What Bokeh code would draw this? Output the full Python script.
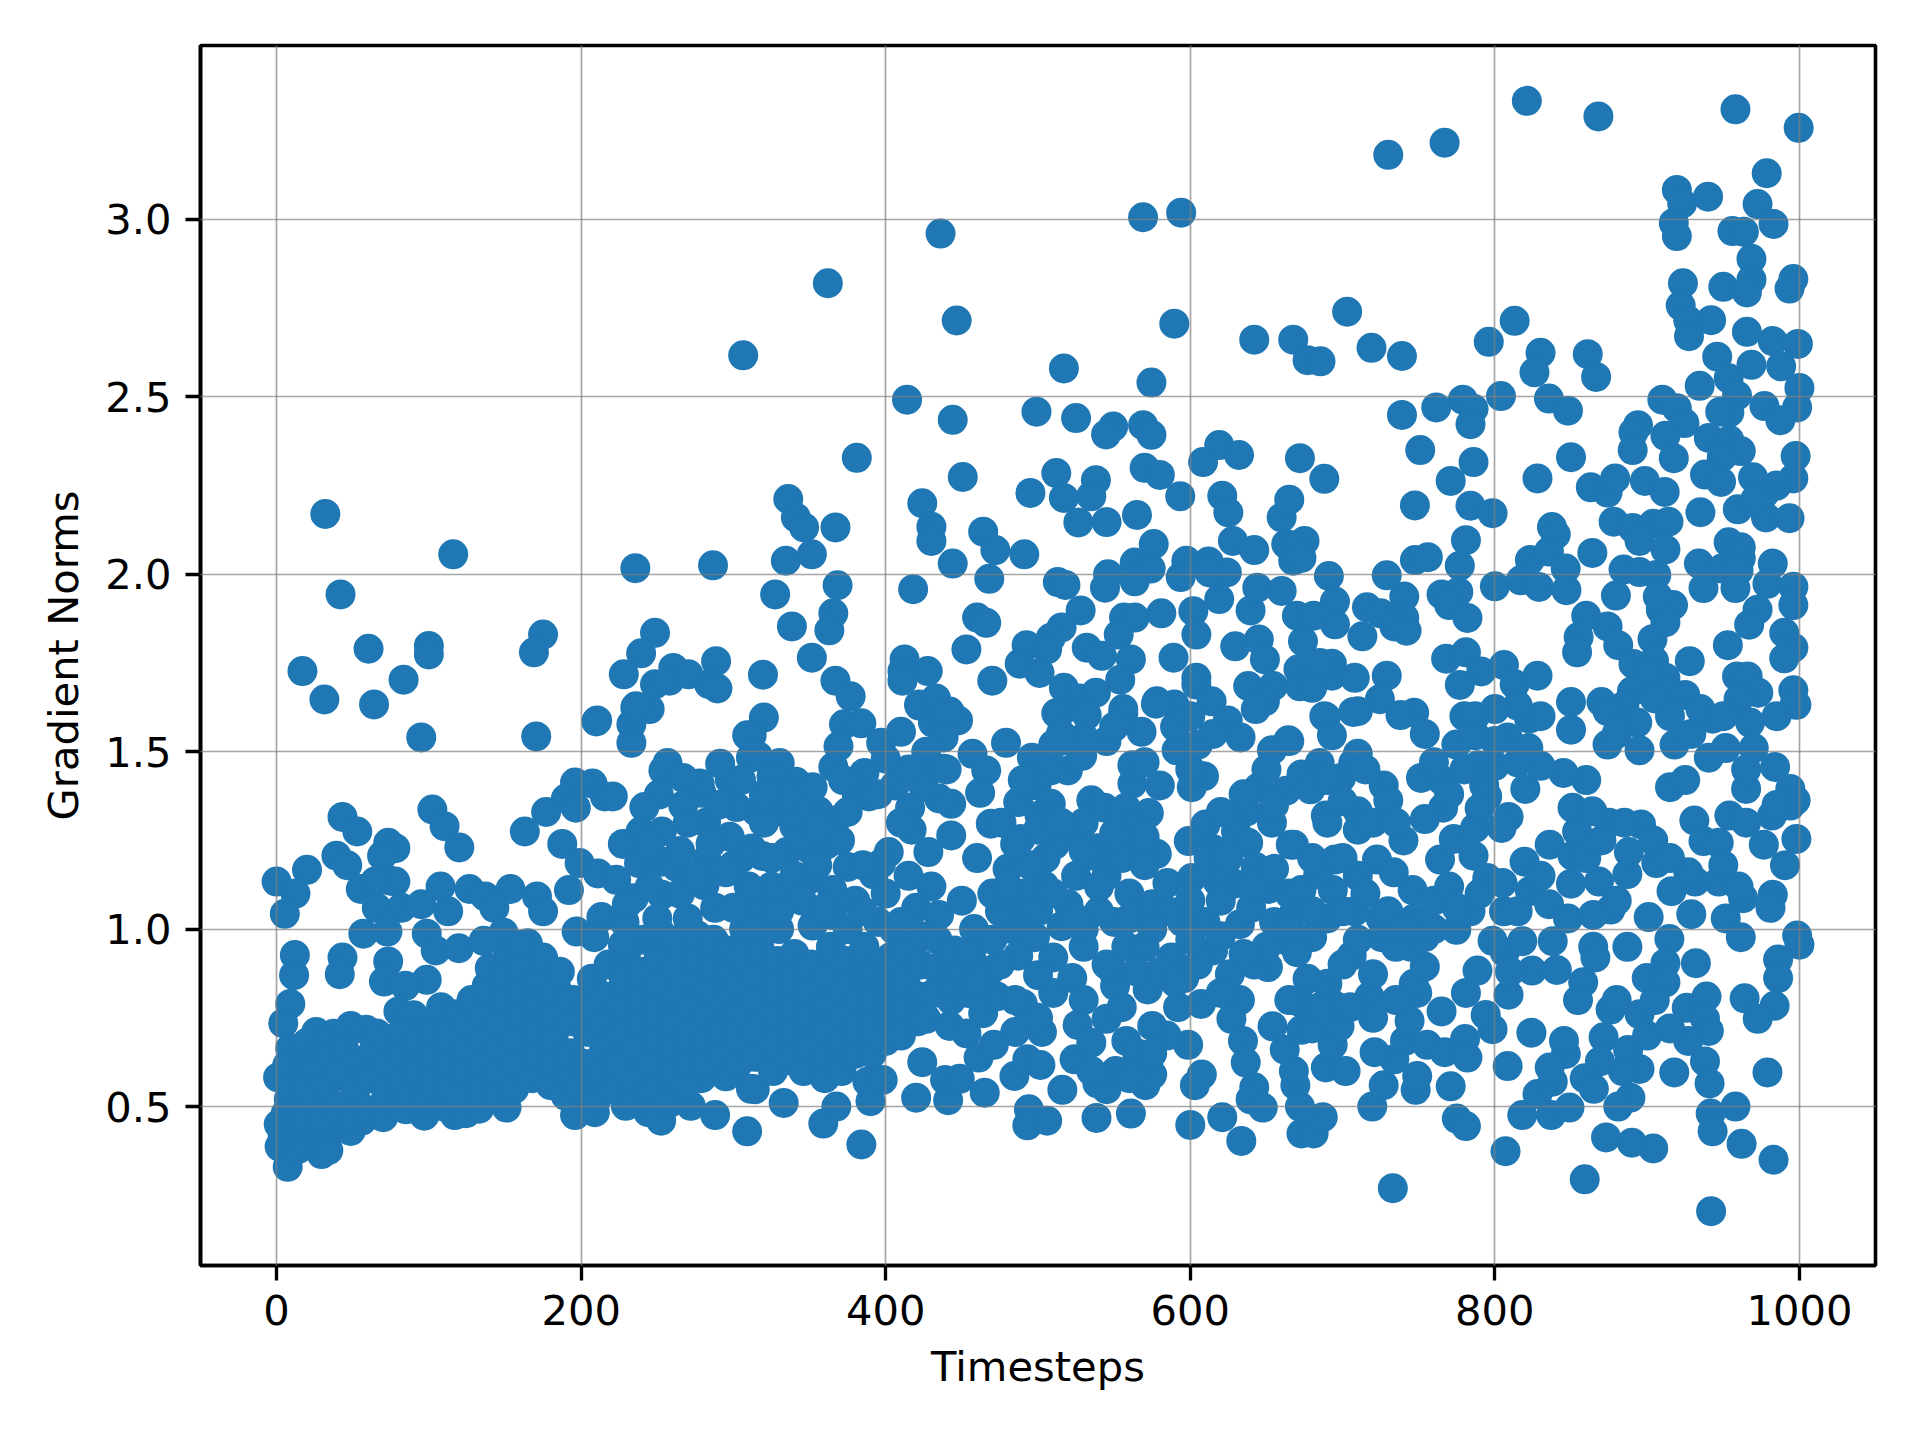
from bokeh.embed import file_html
from bokeh.models import FixedTicker, Range1d, ColumnDataSource, NumeralTickFormatter
from bokeh.plotting import figure
from bokeh.resources import INLINE

# (timestep, gradient norm) pairs, region by region
left_edge_and_floor = [
 (1,.582),(1.4,.45),(2,.387),(7.3,.33),(6,.48),(4,.42),(8,.52),(10,.56),(12,.44),(14,.38),(16,.5),(20,.4),(25,.43),(29.5,.366),(34,.377),
 (40,.44),(48.7,.431),(56,.46),(65.8,.487),(85,.492),(97,.474),(117,.476),(124.5,.481),(133,.494),(151,.497),(196,.476),(209,.484),(229.3,.502),
 (244,.484),(252.5,.46),(272,.502),(288,.476),(309,.43),(295,.585),(279,.58),(252,.57),(311.5,.55),
 (9,.789),(4.4,.735),(9,.664),(7,.617),(12,.927),(11.5,.87),(43.3,.92),(41.5,.873),(73.3,.909),(70.5,.852),(98.6,.857),(84.5,.84),(80,.768),(90,.757),
]
blob_0_150 = [
 (18,.47),(18,.55),(18,.62),(20,.68),(26,.71),(26,.61),(27,.52),(30,.46),(33,.56),(34,.65),(37.5,.705),(40,.5),(42,.6),(44,.67),(48.7,.727),(50,.47),
 (52,.55),(53,.63),(58.8,.716),(60,.49),(62,.58),(64,.66),(65.8,.706),(70,.47),(72,.54),(73,.62),(75,.69),(80,.5),(82,.57),(83,.65),(85,.71),(90,.53),
 (92,.6),(94,.68),(98,.51),(102,.57),(103,.64),(105,.72),(108,.78),(110,.5),(112,.56),(114,.63),(115,.7),(118,.76),(122,.53),(124,.6),(126,.66),(127,.73),
 (128,.8),(133,.54),(135,.62),(136,.69),(137,.76),(138,.84),(140,.89),(144,.52),(146,.59),(147,.66),(148,.73),(149,.8),(150,.87),(152,.93),
]
blob_150_300 = [
 (156,.55),(158,.62),(158,.69),(160,.76),(160,.83),(161,.9),(165,.96),(168,.58),(170,.65),(171,.72),(172,.79),(172,.86),(175,.92),(180,.56),(181,.62),(182,.7),
 (183,.76),(184,.83),(186,.88),(190,.53),(192,.6),(193,.65),(194,.74),(195,.8),(200,.55),(203,.62),(204,.71),(205,.78),(207,.86),(210,.52),(214,.59),(215,.66),
 (216,.73),(216,.81),(218,.9),(222,.55),(225,.63),(226,.7),(227,.78),(228,.86),(230,.94),(233,.52),(236,.58),(237,.66),(238,.73),(239,.81),(240,.88),(241,.97),
 (247,.54),(248,.62),(249,.69),(250,.77),(250,.84),(251,.92),(252,.99),(258,.51),(260,.6),(261,.67),(262,.74),(263,.81),(263,.89),(264,.97),(268,.56),(270,.63),
 (272,.7),(273,.78),(274,.85),(275,.93),(276.6,.982),(281,.62),(283,.68),(284,.75),(285,.83),(286,.9),(287,.97),(292,.65),(294,.72),(295,.79),(296,.87),(297,.94),
]
blob_300_460 = [
 (303,.62),(304,.7),(305,.77),(305,.85),(306,.93),(307,1.0),(314,.549),(314,.64),(315,.72),(316,.8),(316,.87),(317,.95),(318,1.02),(314,1.06),(326,.6),(327,.68),
 (327,.76),(328,.83),(329,.91),(330,1.0),(333,.51),(337,1.087),(337,.63),(338,.71),(338,.78),(339,.86),(340,.93),(346,.6),(349,.67),(350,.75),(350,.82),(351,.9),
 (352,1.01),(359,.452),(360,.58),(361,.64),(361,.72),(362,.79),(363,.87),(364,.95),(365,1.04),(367.6,.5),(371,.6),(372,.68),(373,.76),(373,.83),(374,.91),(375,1.0),
 (380,.648),(381,.72),(384,.393),(384,.8),(385,.87),(386,.95),(388,.57),(390,.515),(391,.65),(392,.73),(393,.8),(394,.88),(395,1.02),(398,.575),(400,.685),(401,.76),
 (402,.84),(403,.92),(405,1.0),(410,.7),(412,.78),(413,.86),(414,.94),(420,.525),(424,.625),(421,.74),(422,.81),(423,.9),(424,.98),(426.6,.747),(432,.82),(433,.89),
 (434,.97),(439,.575),(441,.518),(442,.727),(443,.8),(444,.86),(445,.94),(448.6,.578),(449,.883),(453,.706),(456,.925),(454,.82),(458,1.0),(461,.638),
]
mid_300_460 = [
 (320,1.596),(312,1.546),(372.6,1.577),(384,1.58),(369,1.515),(397,1.525),(410,1.556),(422,1.63),(431,1.582),(447.5,1.588),(438,1.54),(457,1.494),(426.6,1.5),(438,1.452),
 (426.6,1.44),(406,1.405),(389,1.374),(381,1.379),(386,1.44),(365.6,1.457),(330.4,1.468),(316,1.488),(341,1.415),(325,1.43),(315,1.332),(356,1.332),(367,1.306),(330,1.332),
 (443,1.353),(435,1.368),(416,1.342),(417,1.28),(428,1.217),(402,1.217),(443,1.264),(312,1.227),(319,1.206),(335,1.217),(349,1.228),(361,1.238),(375,1.175),(392,1.154),(397,1.185),
 (340,1.29),(345,1.36),(350,1.14),(325,1.12),(340,1.15),(310,1.12),(365,1.11),(380,1.08),(415,1.15),(430,1.12),(420,1.06),(435,1.04),(450,1.08),(302,1.344),
 (309,1.546),(311.5,1.483),(297.6,1.42),(291.3,1.466),(279,1.384),(277.8,1.41),
 (305,1.2),(320,1.3),(335,1.38),(352,1.4),(372,1.42),(395,1.38),(410,1.3),(400,1.1),(385,1.18),(370,1.25),(355,1.18),(345,1.08),(325,1.2),(310,1),(300,1.18),
 (330,1.05),(360,1.06),(410,1.02),(385,1.05),(345,1.25),(375,1.33),(355,1.28),(320,1.38),(305,1.42),(425,1.4),(440,1.45),(415,1.45),(400,1.48),
]
mid_160_300 = [
 (95,1.54),(170.5,1.543),(210.5,1.588),(233,1.577),(235.6,1.624),(245,1.62),(233,1.525),(256.7,1.468),(254,1.447),(267,1.426),(251,1.379),(241.5,1.344),(267,1.348),(282,1.3),
 (196,1.413),(207.5,1.41),(190,1.368),(196.5,1.342),(215.6,1.374),(220.8,1.374),(177,1.33),(163,1.275),(187.6,1.24),(199,1.186),(192,1.11),(211,1.157),(223,1.139),(227.4,1.24),
 (239,1.275),(253,1.275),(238,1.186),(253,1.19),(262.6,1.175),(234.5,1.087),(297.6,1.26),(282.4,1.196),(295,1.16),(253,1.097),(281,1.123),(288,1.06),(213.3,1.034),(197,.993),
 (228.5,1.019),(208.6,.977),(227.4,.956),(265,1.1),(270,1.03),(300,1.06),(250,1.03),
 (245,1.24),(270,1.3),(285,1.24),(265,1.22),(245,1.12),(275,1.15),(290,1.35),(230,1.07),
 (43.3,1.316),(53,1.275),(39.3,1.207),(46.4,1.18),(0,1.134),(20,1.167),(12.4,1.1),(5.4,1.043),(73.3,1.243),(78,1.228),(69.3,1.207),(102.3,1.337),(110.3,1.29),(120,1.23),
 (74,1.137),(78,1.134),(55.3,1.113),(64.6,1.134),(65.8,1.06),(82,1.06),(95,1.07),(107.7,1.12),(126.7,1.113),(137,1.092),(153.6,1.113),(171,1.092),(175,1.05),(112.7,1.05),(143,1.06),
 (57,.987),(72.8,.993),(149,.99),(98.6,.987),(104.5,.94),(119.7,.946),(136,.967),(159.5,.956),
]
upper_left = [
 (32,2.17),(116,2.056),(42,1.943),(235.6,2.017),(286.6,2.025),(306.4,2.617),(175,1.83),(169,1.78),(60.4,1.79),(100,1.798),(100,1.774),(17,1.727),(83.4,1.703),(31.4,1.647),(64,1.633),
 (248.5,1.835),(239.4,1.777),(228,1.718),(260.5,1.736),(248.5,1.69),(258,1.7),(270.5,1.718),(288.6,1.755),(284,1.69),(289.5,1.678),(236,1.628),(210,1.585),
]
upper_mid = [
 (436,2.96),(362,2.82),(446.6,2.715),(569,3.006),(594,3.019),(589.5,2.706),(517,2.58),(574.5,2.54),(414,2.492),(444,2.435),(499,2.458),(525,2.44),(549.4,2.416),(544.7,2.394),(569,2.42),
 (574.5,2.393),(642,2.661),(381,2.328),(619,2.364),(608.4,2.316),(632,2.336),(570,2.3),(580,2.28),(512,2.285),(538,2.265),(535,2.22),(517,2.215),(495,2.229),(593.4,2.22),(450.6,2.274),
 (336,2.212),(341,2.16),(346.4,2.132),(367,2.132),(424,2.2),(430,2.134),(430,2.094),(464,2.12),(472,2.068),(491,2.056),(444,2.03),(468,1.987),(526.5,2.146),(545,2.147),(565,2.167),
 (576,2.085),(621,2.221),(625,2.174),(660,2.16),(628,2.094),(642,2.068),(597.4,2.038),(612,2.036),(624,2.005),(612.6,2.005),(593.7,1.992),(563.5,2.033),(574,2.016),(546,2),(544,1.962),
 (563.5,1.98),(513,1.978),(518,1.97),(334.4,2.038),(351.5,2.056),(368.4,1.969),(327.4,1.943),(365.6,1.89),(363,1.842),(338.4,1.853),(418,1.958),(351.5,1.765),(319.4,1.717),(367,1.7),
 (377,1.656),(460,1.878),(466,1.863),(528,1.898),(581,1.89),(602,1.896),(619,1.93),(639.6,1.898),(604,1.83),(556.5,1.878),(563.5,1.878),(553,1.83),(515.5,1.85),(508.4,1.821),(492.5,1.8),
 (506,1.788),(488,1.748),(501,1.722),(532,1.793),(542,1.77),(561,1.76),(554,1.703),(589,1.765),(453,1.788),(412.4,1.76),(411,1.727),(411,1.7),(427.6,1.727),(470,1.7),(517,1.68),(527,1.65),
 (538,1.666),(556,1.62),(515.5,1.614),(578,1.642),(589.5,1.633),(604,1.708),(604,1.689),(614,1.642),(629.5,1.797),(645,1.816),(649,1.76),(638,1.685),(654.5,1.685),(649,1.642),(644,1.962),
 (660,1.953),(667.6,2.038),(663,2.085),(672,2.066),(422,1.633),(433,1.65),(442,1.613),
]
mid_460_670 = [
 (479,1.525),(466,1.447),(462,1.384),(469,1.297),(488.5,1.254),(521,1.27),(496,1.483),(521,1.53),(519.6,1.447),(529,1.488),(508.4,1.447),(499,1.405),(487,1.358),(508.4,1.353),(501,1.32),
 (535,1.363),(543.6,1.342),(557.6,1.342),(572.8,1.327),(562,1.41),(580,1.405),(562,1.462),(601,1.4),(609,1.431),(591,1.504),(545,1.53),(512,1.608),(556,1.608),(532,1.603),(568,1.556),
 (577.4,1.635),(643,1.62),(624.6,1.588),(633,1.54),(665,1.53),(653.6,1.504),(610,1.295),(599,1.248),(615,1.225),(645,1.4),(663,1.39),(637,1.332),(653.6,1.3),(630,1.275),(638,1.243),
 (666,1.238),(643,1.175),(651.3,1.113),(629,1.128),(601,1.144),(618,1.134),(578,1.212),(562,1.217),(562,1.285),(539,1.228),(511,1.238),(536.5,1.207),(594,1.05),(575,1.07),(550,1.02),
 (515.5,1.008),(504,1.123),(490,1.1),(483,1),(498,.977),(549,.883),(558,.95),(587.6,.92),(594.6,1.02),(610,1.02),(632.6,1.014),(596,.862),(607,.789),(626,.873),(651,.893),(642,.9),
 (668,1.045),(664,.967),(654,.726),(632.6,.8),(627,.747),(634.6,.685),(636.4,.624),(603,.56),(607.6,.59),(642,.554),(639.6,.52),(647.6,.497),(600,.448),(621,.47),(633.5,.403),(673,.424),
 (662,.66),(669,.56),(561,.48),(538.4,.468),(516,.547),(502.6,.71),(485,.71),(465,.539),(484.5,.586),(494,.492),(493,.447),(506,.46),(471,.674),(493,.633),(501.6,.617),(524,.633),(539,.565),
 (545,.549),(551,.6),(570.5,.56),(575,.59),(598.6,.674),(584.5,.7),(464,.763),(490,.789),(473,.81),(510,.82),(526,.73),(545,.747),(558,.685),(575,.727),(592,.78),(572,.83),(550.6,.84),
 (522.5,.862),(468.6,.883),(487,.925),(475,1.05),(490,1.05),(505,1.2),(525,1.15),(545,1.15),(560,1.1),(520,1.07),(540,1.05),(530,.95),(510,.92),(570,.95),(585,1.13),(470,1.1),(480,1.17),
 (460,1.2),(476,1.3),(530,1.3),(560,1.03),(530,1),(500,1.05),(620,1.08),(640,1.06),(655,1.02),(665,1.1),(615,.94),(580,.88),(500,.87),
 (460,.85),(475,.9),(470,.97),(485,.8),(500,.75),(535,.68),(530,.8),(545,.9),(555,.78),(565,.88),(590,.85),(605,.9),(620,.82),(565,.65),(560,.58),
 (575,.65),(535,.6),(480,1.12),(495,1.18),(510,1.1),(525,1.03),(540,1.12),(555,1.2),(570,1.18),(585,1.05),(600,1.08),(612,1.2),(625,1.2),(640,1.12),(655,1.17),(665,1),(650,.95),(635,.93),
 (620,.98),(600,.97),(575,1),(485,1.24),(500,1.28),(515,1.3),(530,1.22),(550,1.27),(570,1.26),(620,1.33),(635,1.38),(650,1.45),(655,1.35),(600,1.45),
 (570,1.47),(510,1.52),(490,1.42),(530,1.54),(590,1.57),(605,1.52),(615,1.55),(600,1.6),(550,1.57),(515,1.55),
]
right_high = [
 (821,3.334),(868,3.29),(958,3.31),(999.5,3.258),(730,3.182),(767,3.216),(978.5,3.13),(919.5,3.083),(923,3.045),(940,3.064),(972.5,3.043),(917.5,2.99),(919.5,2.953),(956,2.967),(963.5,2.965),
 (983,2.987),(968.5,2.889),(968.5,2.83),(923.5,2.82),(950,2.81),(965.5,2.794),(996,2.832),(993.5,2.805),(922,2.757),(927,2.715),(942,2.716),(927.5,2.671),(965.5,2.683),(982.5,2.657),(999,2.649),
 (703,2.74),(813,2.714),(796,2.655),(830,2.624),(826,2.569),(861,2.62),(866.5,2.556),(667.6,2.661),(677,2.603),(685.5,2.6),(719,2.638),(739,2.615),(946,2.613),(953.5,2.552),(968.5,2.59),
 (988,2.586),(934.5,2.531),(1000,2.525),(959,2.504),(954,2.456),(948,2.458),(977,2.474),(998.5,2.47),(987.5,2.434),(804,2.502),(779,2.492),(761.5,2.47),(786,2.466),(784,2.423),(739,2.449),
 (835.5,2.495),(848,2.461),(910,2.492),(919.5,2.468),(924.5,2.426),(894,2.42),(891,2.4),(890.5,2.35),(912,2.39),(917.5,2.327),(940.5,2.384),(954,2.378),(961.5,2.347),(949,2.33),(938,2.281),
 (948.5,2.26),(969.5,2.273),(997.5,2.333),(996,2.27),(985,2.25),(977,2.227),(959.5,2.183),(978,2.16),(993.5,2.158),(971,2.21),(751,2.35),(786,2.316),(850,2.33),(771,2.263),(828,2.27),
 (863,2.245),(874,2.23),(879,2.27),(898.5,2.263),(911.5,2.232),(784,2.193),(747.5,2.194),(798.5,2.172),(672,2.327),(688,2.269),(665,2.21),(935,2.175),(878,2.148),(890.5,2.13),(904,2.142),
 (914,2.148),(895,2.094),(912,2.07),(837.5,2.133),(840,2.112),(781,2.096),(953.5,2.09),(961.5,2.076),(961.5,2.045),(864,2.06),(675,2.094),(669,2.08),(673,2.046),(747.5,2.04),(756,2.048),
 (777,2.024),(823,2.04),(835.5,2.064),(846.5,2.016),(817,1.983),(829,1.964),(847,1.955),(800,1.966),(691,1.995),(729,1.997),(934,2.03),(982.5,2.03),(949,2.016),(960,2.01),(884.5,2.013),
 (895,2.006),(906,1.998),(937,1.961),(958,1.961),(979,1.973),(996,1.965),(996,1.913),(972.5,1.9),(967,1.858),(953,1.8),(879.5,1.94),(860,1.883),(874,1.853),(855,1.823),(854,1.78),(881,1.8),
 (891,1.747),(903.5,1.817),(909,1.9),(917,1.913),(907,1.937),(912,1.865),(904.5,1.756),(912,1.708),(928,1.755),(990,1.835),(996,1.793),(990,1.763),(959,1.712),(966,1.712),(973,1.666),(996,1.673),
 (997,1.637),(960,1.648),(765,1.943),(776,1.95),(770,1.913),(782,1.877),(716,1.907),(725,1.89),(740.5,1.937),(740.5,1.877),(734,1.853),(742,1.841),(713,1.825),(695,1.923),(695,1.859),(674,1.811),
 (670,1.883),(681,1.883),(693,1.748),(671,1.732),(672,1.684),(693,1.714),(708,1.708),(729,1.714),(768,1.762),(781,1.78),(791,1.726),(806,1.744),(813,1.69),(828,1.714),(777,1.688),(688,1.6),
 (724.5,1.648),(747,1.61),(707,1.612),(780,1.6),(900,1.72),(915,1.67),(905,1.65),(890,1.67),(925,1.66),(885,1.63),(870,1.64),(850,1.64),
]
right_low = [
 (689,1.598),(710,1.614),(738,1.603),(787,1.6),(998,1.632),(943,1.593),(967.6,1.582),(850,1.562),(822.5,1.593),(874,1.614),(893.5,1.582),(918,1.52),(929,1.55),(874,1.52),(693,1.546),(664.4,1.532),
 (754,1.55),(774.7,1.52),(787,1.546),(808.4,1.54),(822,1.51),(710,1.494),(685,1.468),(789,1.462),(895,1.504),(940.5,1.483),(951.6,1.51),(970,1.51),(984,1.457),(994,1.395),(997.5,1.363),(994,1.348),
 (965,1.395),(982,1.32),(954,1.32),(931,1.306),(937,1.248),(947,1.243),(976.6,1.238),(998,1.254),(990.5,1.18),(947,1.134),(931.5,1.134),(927,1.16),(916,1.107),(982.5,1.097),(963,1.087),(929,1.042),
 (981,1.06),(901,1.034),(951.6,1.03),(961.5,.977),(998.5,.982),(1000,.956),(986,.914),(986,.862),(964,.805),(983.7,.784),(972.6,.747),(979,.596),(932,.904),(914.6,.972),(912,.904),(899.7,.862),
 (876,.773),(912,.85),(926,.778),(939,.81),(938,.747),(940.5,.713),(927,.685),(871.4,.695),(887.5,.659),(938,.627),(941,.565),(917.8,.596),(895,.606),(884,.6),(869,.627),(859,.58),(889,.525),(881,.5),
 (865,.55),(958,.5),(941.7,.48),(943,.43),(962,.395),(983,.35),(904,.382),(890,.398),(873,.413),(859,.295),(733,.27),(942,.205),(807,.374),(818,.476),(837,.476),(849,.497),(828,.535),(838,.57),
 (846.6,.648),(845.4,.685),(836,.61),(824,.708),(808.4,.614),(798.5,.718),(794,.758),(775,.466),(781,.445),(748,.547),(749,.586),(771,.557),(719.5,.5),(727,.56),(681,.424),(687,.47),(672,.5),
 (689,.61),(702,.6),(734,.633),(741,.685),(744,.742),(755.5,.674),(767,.653),(780.4,.69),(782,.638),(693.5,.674),(673,.716),(668,.6),(721,.653),(698,.726),(765,.768),(809,.815),(781,.82),(749,.82),
 (717.6,.81),(720,.873),(690,.846),(677,.86),(672,.794),(695,.784),(858,.85),(854.6,.8),(824.4,.883),(840.7,.885),(788.6,.883),(806.5,.935),(746.7,.846),(754,.894),(754,.977),(725.6,.977),(706,.925),
 (680,.977),(670,.935),(774.7,.998),(838,.966),(864.6,.95),(866,.92),(887,.95),(798.5,.967),(818,.966),(784,1.05),(747,1.03),(690,1.03),(673,1.11),(693.6,1.11),(722.6,1.196),(746,1.11),(733.6,1.16),
 (764,1.196),(786,1.207),(773,1.254),(795,1.144),(823,1.107),(835.6,1.07),(819.5,1.19),(836,1.238),(851,1.207),(854,1.275),(850,1.128),(868.4,1.134),(887,1.155),(888,1.217),(875,1.3),(851,1.342),
 (864,1.332),(896,1.295),(904,1.25),(906,1.186),(876,1.055),(864.6,1.04),(848,1.03),(751.5,1.426),(765,1.42),(766,1.342),(754,1.31),(787,1.285),(727,1.405),(730,1.363),(710,1.332),(699,1.426),
 (707,1.468),(673,1.436),(679,1.394),(689,1.32),(710,1.28),(690,1.3),(668,1.238),(695,1.196),(684,1.154),(793,1.405),(795,1.374),(820,1.395),(809,1.316),(804.4,1.285),(725,1.03),(708,1.05),
 (760,1.08),(770,1.12),(806,1.05),(710,1.15),(740,1.25),(760,1.47),(800,1.46),(790,1.34),(720,1.3),(745,.95),(735,.8),
 (680,1.05),(680,1.2),(700,1.05),(700,1.2),(715,1.1),(730,1.05),(735,.95),(710,.97),(700,.9),(720,.75),(705,.78),(680,.72),(665,.8),(685,.78),(740,1),(760,1),(775,1.06),(790,1.1),(805,1.13),(815,1.05),
 (830,1.15),(860,1.2),(870,1.25),(880,1.08),(915,1.2),(915,1.4),(925,1.42),(965,1.45),(985,1.35),(965,1.3),
 (950,1.18),(960,1.12),(860,1.42),(845,1.44),(830,1.46),(815,1.47),(800,1.53),(780,1.45),(770,1.38),(715,1.45),(690,1.42),(700,1.36),(735,1.3),
 (885,1.3),(915,1.6),(935,1.62),(950,1.6),(985,1.6),(880,1.55),(830,1.6),(815,1.63),(800,1.62),
 (680,1.68),(685,1.75),(810,.88),(880,.8),(895,.76),(905,.8),(900,.7),(915,.72),
]

regions = [left_edge_and_floor, blob_0_150, blob_150_300, blob_300_460, mid_300_460, mid_160_300, upper_left, upper_mid, mid_460_670, right_high, right_low]
timesteps = [pt[0] for r in regions for pt in r]
grad_norms = [pt[1] for r in regions for pt in r]

x_ticks = [0, 200, 400, 600, 800, 1000]
y_ticks = [0.5, 1.0, 1.5, 2.0, 2.5, 3.0]

FONT = "DejaVu Sans"
p = figure(width=1904, height=1424, output_backend="svg", toolbar_location=None,
           x_range=Range1d(-49.95, 1049.95), y_range=Range1d(0.052, 3.49),
           min_border_left=200, min_border_right=29, min_border_top=45, min_border_bottom=159,
           x_axis_label="Timesteps", y_axis_label="Gradient Norms")
p.background_fill_color = "white"
p.border_fill_color = "white"
p.outline_line_color = "black"
p.outline_line_width = 3.6

src = ColumnDataSource(dict(x=timesteps, y=grad_norms))
p.scatter("x", "y", source=src, size=30, fill_color="#1f77b4", line_color=None)

p.xaxis.ticker = FixedTicker(ticks=x_ticks)
p.yaxis.ticker = FixedTicker(ticks=y_ticks)
p.yaxis.formatter = NumeralTickFormatter(format="0.0")
for ax in (p.xaxis[0], p.yaxis[0]):
    ax.axis_line_color = "black"
    ax.axis_line_width = 3.6
    ax.major_tick_line_color = "black"
    ax.major_tick_line_width = 3.33
    ax.major_tick_out = 15
    ax.major_tick_in = 0
    ax.minor_tick_line_color = None
    ax.major_label_text_font = FONT
    ax.major_label_text_font_size = "41.67px"
    ax.major_label_text_color = "black"
    ax.axis_label_text_font = FONT
    ax.axis_label_text_font_size = "41.67px"
    ax.axis_label_text_font_style = "normal"
    ax.axis_label_text_color = "black"
    ax.major_label_standoff = 14
    ax.axis_label_standoff = 14
p.yaxis[0].major_label_orientation = "horizontal"

for g in (p.xgrid[0], p.ygrid[0]):
    g.level = "overlay"
    g.grid_line_color = "#808080"
    g.grid_line_alpha = 0.7
    g.grid_line_width = 1.7

open("out.html", "w").write(file_html(p, INLINE))
